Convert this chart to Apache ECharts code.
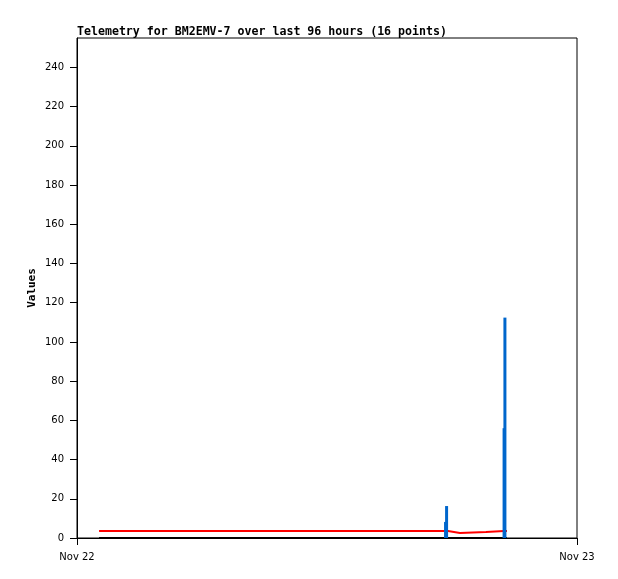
<!DOCTYPE html>
<html>
<head>
<meta charset="utf-8">
<script src="https://cdn.jsdelivr.net/npm/echarts@6/dist/echarts.min.js"></script>
<style>html,body{margin:0;padding:0;background:#fff}#c{width:618px;height:579px}</style>
</head>
<body>
<div id="c"></div>
<script>
// Hours since Nov 22 00:00
var hours      = [1.06, 17.69, 17.74, 17.81, 18.38, 19.63, 20.50, 20.54, 20.64];
var redValues  = [3.6,  3.6,   3.6,   2.6,   3.1,   3.6,   3.6,   3.6,   3.6];
var blueValues = [0,    8.2,   16.3,  0,     0,     0,     56,    112.4, 0];
var blackValues= [0,    0,     0,     0,     0,     0,     0,     0,     0];
var xTickLabels = ['Nov 22', 'Nov 23'];
var xTicks = [0, 24];
var yTicks = [0, 20, 40, 60, 80, 100, 120, 140, 160, 180, 200, 220, 240];
var yMax = 255;

function pairs(vals){ return hours.map(function(h,i){ return [h, vals[i]]; }); }
function steps(vals){
  var out = [];
  for (var i = 0; i < hours.length; i++) {
    out.push([hours[i], vals[i]]);
    if (i + 1 < hours.length) out.push([hours[i+1], vals[i]]);
  }
  return out;
}

var chart = echarts.init(document.getElementById('c'));
chart.setOption({
  animation: false,
  backgroundColor: '#fff',
  title: {
    text: 'Telemetry for BM2EMV-7 over last 96 hours (16 points)',
    left: 72, top: 21,
    textStyle: {fontFamily: 'DejaVu Sans Mono', fontWeight: 'bold', fontSize: 11.6, color: '#000'}
  },
  grid: {left: 77, right: 41, top: 38, bottom: 41, show: true, borderColor: '#000', borderWidth: 1, backgroundColor: 'transparent'},
  xAxis: {
    type: 'value', min: 0, max: 24, interval: 24,
    axisLine: {show: true, lineStyle: {color: '#000', width: 1}},
    axisTick: {show: true, length: 7, lineStyle: {color: '#000'}, customValues: xTicks},
    splitLine: {show: false},
    axisLabel: {
      margin: 14, color: '#000', fontFamily: 'DejaVu Sans', fontSize: 10,
      customValues: xTicks,
      formatter: function(v){ return xTickLabels[xTicks.indexOf(v)] || ''; }
    }
  },
  yAxis: {
    type: 'value', min: 0, max: yMax, interval: 20,
    name: 'Values', nameLocation: 'middle', nameGap: 39, nameRotate: 90,
    nameMoveOverlap: false,
    nameTextStyle: {fontFamily: 'DejaVu Sans Mono', fontWeight: 'bold', fontSize: 11, color: '#000'},
    axisLine: {show: true, lineStyle: {color: '#000', width: 1}},
    axisTick: {show: true, length: 7, lineStyle: {color: '#000'}, customValues: yTicks},
    splitLine: {show: false},
    axisLabel: {
      margin: 13, color: '#000', fontFamily: 'DejaVu Sans', fontSize: 10,
      customValues: yTicks
    }
  },
  series: [
    {type: 'line', data: steps(blackValues), symbol: 'none', z: 2,
     lineStyle: {color: '#000', width: 2}},
    {type: 'line', data: steps(redValues), symbol: 'none', z: 3,
     lineStyle: {color: '#ff0000', width: 2}},
    {type: 'bar', data: pairs(blueValues), barWidth: 3, barGap: '-100%', z: 4,
     itemStyle: {color: '#0066cc'}}
  ]
});
</script>
</body>
</html>
